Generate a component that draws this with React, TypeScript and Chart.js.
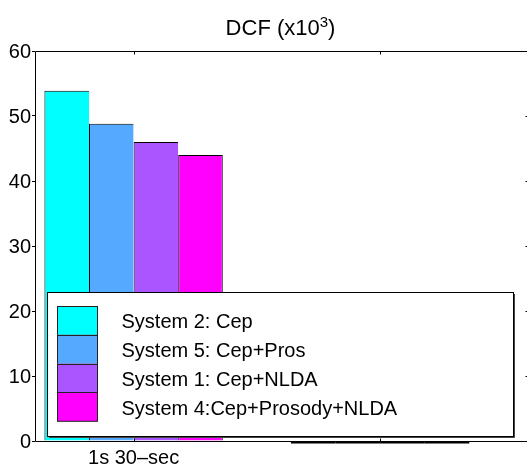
import { useEffect, useRef } from "react"
import { Chart, registerables } from "chart.js"

Chart.register(...registerables)

// two group slots on the x axis, only the first one carries data
const groupPositions = [1, 2]
const groupLabels = ["1s 30–sec", ""]

const systemNames = [
  "System 2: Cep",
  "System 5: Cep+Pros",
  "System 1: Cep+NLDA",
  "System 4:Cep+Prosody+NLDA",
]
const system2Cep = [53.9, 0]
const system5CepPros = [48.8, 0]
const system1CepNlda = [46, 0]
const system4CepProsodyNlda = [44, 0]
// matlab "cool" colormap, 4 entries
const systemColors = ["#00ffff", "#55aaff", "#aa55ff", "#ff00ff"]

const yMin = 0
const yMax = 60
const yStep = 10

const FONT = "'Liberation Sans', Arial, Helvetica, sans-serif"

const matlabLook = {
  id: "matlabLook",
  afterDatasetsDraw(chart: any) {
    const { ctx, chartArea: a, scales } = chart
    ctx.save()

    // zero height bars still leave their edge on the baseline
    chart.data.datasets.forEach((_: any, di: number) => {
      chart.getDatasetMeta(di).data.forEach((bar: any) => {
        const { x, y, base, width } = bar.getProps(["x", "y", "base", "width"], true)
        if (Math.abs(base - y) < 0.5) {
          ctx.fillStyle = "#000"
          ctx.fillRect(x - width / 2, base, width, 2.5)
        }
      })
    })

    // axes box
    ctx.strokeStyle = "#000"
    ctx.lineWidth = 1
    const l = Math.round(a.left) + 0.5
    const t = Math.round(a.top) + 0.5
    const r = Math.round(a.right) + 0.5
    const b = Math.round(a.bottom) + 0.5
    ctx.beginPath()
    ctx.moveTo(l, t)
    ctx.lineTo(r, t)
    ctx.lineTo(r, b)
    ctx.lineTo(l, b)
    ctx.closePath()
    ctx.stroke()

    // inward ticks on top, bottom and right
    ctx.beginPath()
    scales.x.ticks.forEach((tk: any) => {
      const px = Math.round(scales.x.getPixelForValue(tk.value)) + 0.5
      ctx.moveTo(px, t)
      ctx.lineTo(px, t + 3)
      ctx.moveTo(px, b)
      ctx.lineTo(px, b - 3)
    })
    scales.y.ticks.forEach((tk: any) => {
      const py = Math.round(scales.y.getPixelForValue(tk.value)) + 0.5
      ctx.moveTo(r, py)
      ctx.lineTo(r - 3, py)
    })
    ctx.stroke()

    // legend box
    const box = { left: 47, top: 292, right: 513, bottom: 436 }
    const sw = { left: 57, top: 306, width: 40, row: 28.8 }
    const textLeft = 121.5
    ctx.fillStyle = "#fff"
    ctx.fillRect(box.left, box.top, box.right - box.left, box.bottom - box.top)
    ctx.strokeStyle = "#000"
    ctx.strokeRect(box.left + 0.5, box.top + 0.5, box.right - box.left, box.bottom - box.top)
    ctx.strokeStyle = "#444"
    ctx.beginPath()
    ctx.moveTo(box.right + 1.5, box.top + 2)
    ctx.lineTo(box.right + 1.5, box.bottom + 1.5)
    ctx.lineTo(box.left + 2, box.bottom + 1.5)
    ctx.stroke()

    ctx.font = `20px ${FONT}`
    ctx.textBaseline = "alphabetic"
    ctx.textAlign = "left"
    chart.data.datasets.forEach((ds: any, i: number) => {
      const top = sw.top + i * sw.row
      ctx.fillStyle = ds.backgroundColor
      ctx.fillRect(sw.left, top, sw.width, sw.row)
      ctx.strokeStyle = "#222"
      ctx.strokeRect(sw.left + 0.5, Math.round(top) + 0.5, sw.width, sw.row)
      ctx.fillStyle = "#000"
      ctx.fillText(ds.label, textLeft, top + sw.row / 2 + 8)
    })

    ctx.restore()
  },
  afterDraw(chart: any) {
    const { ctx, chartArea: a } = chart
    ctx.save()
    const main = "DCF (x10"
    const sup = "3"
    const close = ")"
    ctx.fillStyle = "#000"
    ctx.textBaseline = "alphabetic"
    ctx.textAlign = "left"
    ctx.font = `22px ${FONT}`
    const wMain = ctx.measureText(main).width
    const wClose = ctx.measureText(close).width
    ctx.font = `15px ${FONT}`
    const wSup = ctx.measureText(sup).width
    let x = (a.left + a.right) / 2 - (wMain + wSup + wClose) / 2 - 1
    const baseline = 35
    ctx.font = `22px ${FONT}`
    ctx.fillText(main, x, baseline)
    x += wMain
    ctx.font = `15px ${FONT}`
    ctx.fillText(sup, x, baseline - 8)
    x += wSup
    ctx.font = `22px ${FONT}`
    ctx.fillText(close, x, baseline)
    ctx.restore()
  },
}

export default function App() {
  const chartRef = useRef<HTMLCanvasElement | null>(null)

  useEffect(() => {
    if (!chartRef.current) return
    const ctx = chartRef.current.getContext("2d")
    if (!ctx) return

    const seriesValues = [system2Cep, system5CepPros, system1CepNlda, system4CepProsodyNlda]
    const last = seriesValues.length - 1

    const myChart = new Chart(ctx, {
      type: "bar",
      data: {
        datasets: seriesValues.map((values, i) => ({
          label: systemNames[i],
          data: values.map((v, j) => ({ x: groupPositions[j], y: v })),
          backgroundColor: systemColors[i],
          borderColor: "#000",
          borderWidth: { top: 1, left: 1, right: i === last ? 1 : 0, bottom: 0 },
          categoryPercentage: 0.7236,
          barPercentage: 1,
        })),
      },
      options: {
        responsive: false,
        animation: false,
        events: [],
        layout: { padding: { top: 51, right: 2, left: 0, bottom: 0 } },
        plugins: {
          legend: { display: false },
          title: { display: false },
          tooltip: { enabled: false },
        },
        scales: {
          x: {
            type: "linear",
            offset: false,
            min: 0.6,
            max: 2.6,
            afterBuildTicks: (scale: any) => {
              scale.ticks = groupPositions.map(v => ({ value: v }))
            },
            afterFit: (scale: any) => {
              scale.height = 24
            },
            grid: { display: false, drawTicks: false, offset: false },
            border: { display: false },
            ticks: {
              autoSkip: false,
              maxRotation: 0,
              padding: 5,
              color: "#000",
              font: { family: FONT, size: 20 },
              callback: (value: any) => {
                const k = groupPositions.indexOf(Number(value))
                return k >= 0 ? groupLabels[k] : ""
              },
            },
          },
          y: {
            min: yMin,
            max: yMax,
            afterFit: (scale: any) => {
              scale.width = 35
            },
            grid: { drawOnChartArea: false, drawTicks: true, tickLength: 3, color: "#000" },
            border: { display: false },
            ticks: {
              stepSize: yStep,
              padding: 1,
              labelOffset: 1.5,
              color: "#000",
              font: { family: FONT, size: 20 },
            },
          },
        },
      },
      plugins: [matlabLook],
    } as any)

    return () => {
      myChart.destroy()
    }
  }, [])

  return (
    <div
      style={{
        position: "fixed",
        left: 0,
        top: 0,
        width: 527,
        height: 465,
        overflow: "hidden",
        background: "#fff",
      }}
    >
      <canvas ref={chartRef} width={530} height={465} style={{ display: "block" }} />
    </div>
  )
}
